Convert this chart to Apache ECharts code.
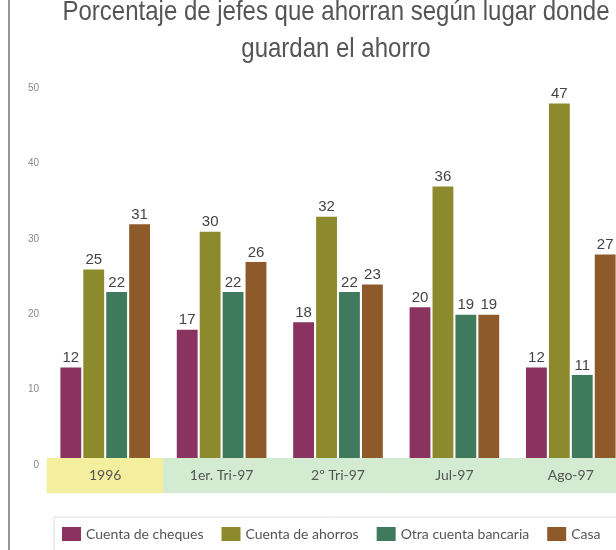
<!DOCTYPE html>
<html>
<head>
<meta charset="utf-8">
<script src="https://cdn.jsdelivr.net/npm/echarts@6/dist/echarts.min.js"></script>
<style>
  html, body { margin: 0; padding: 0; background: #fff; }
  #main { width: 616px; height: 550px; }
</style>
</head>
<body>
<div id="main"></div>
<script>
// datos
var categorias = ['1996', '1er. Tri-97', '2º Tri-97', 'Jul-97', 'Ago-97'];
var cheques = [12, 17, 18, 20, 12];
var ahorros = [25, 30, 32, 36, 47];
var otraCuenta = [22, 22, 22, 19, 11];
var casa = [31, 26, 23, 19, 27];
var nombres = ['Cuenta de cheques', 'Cuenta de ahorros', 'Otra cuenta bancaria', 'Casa'];
var titulo = ['Porcentaje de jefes que ahorran según lugar donde', 'guardan el ahorro'];
var colores = ['#8a3260', '#8c8a2c', '#3f7a5c', '#8e5a2a'];

var myChart = echarts.init(document.getElementById('main'));

var etiqueta = {
    show: true,
    position: 'top',
    distance: 2,
    color: '#444',
    fontSize: 15,
    fontFamily: 'Liberation Sans'
};

var series = [cheques, ahorros, otraCuenta, casa].map(function (d, i) {
    return {
        name: nombres[i],
        type: 'bar',
        data: d,
        barGap: '10%',
        barCategoryGap: '23%',
        itemStyle: { color: colores[i] },
        label: etiqueta
    };
});

var fuente = 'Lato, "DejaVu Sans", sans-serif';

// titulo algo condensado, como en el original
var lineaTitulo = function (txt, y) {
    return {
        type: 'text',
        x: 336,
        y: y,
        scaleX: 0.857,
        style: {
            text: txt,
            fill: '#555',
            font: '28px "Liberation Sans"',
            textAlign: 'center',
            textVerticalAlign: 'middle'
        }
    };
};

option = {
    backgroundColor: '#fff',
    animation: false,
    legend: {
        data: nombres,
        left: 62,
        top: 527,
        padding: 0,
        itemWidth: 19,
        itemHeight: 14,
        itemGap: 18,
        icon: 'rect',
        textStyle: {
            fontFamily: fuente,
            fontSize: 14,
            color: '#555'
        }
    },
    grid: {
        left: 47,
        width: 582,
        top: 81,
        bottom: 92,
        outerBoundsMode: 'none'
    },
    xAxis: {
        type: 'category',
        data: categorias,
        axisLine: { show: false },
        axisTick: { show: false },
        axisLabel: {
            interval: 0,
            margin: 0,
            formatter: function (v, idx) {
                return idx === 0 ? '{y|' + v + '}' : '{g|' + v + '}';
            },
            rich: {
                y: {
                    width: 117, height: 35, lineHeight: 35, align: 'center',
                    backgroundColor: '#f4ef9f', color: '#555',
                    fontFamily: fuente, fontSize: 14
                },
                g: {
                    width: 117, height: 35, lineHeight: 35, align: 'center',
                    backgroundColor: '#d3ebd0', color: '#555',
                    fontFamily: fuente, fontSize: 14
                }
            }
        }
    },
    yAxis: {
        type: 'value',
        min: 0,
        max: 50,
        interval: 10,
        axisLine: { show: false },
        axisTick: { show: false },
        splitLine: { show: false },
        axisLabel: {
            margin: 8,
            verticalAlign: 'top',
            padding: [2, 0, 0, 0],
            color: '#888',
            fontSize: 10,
            fontFamily: 'Liberation Sans'
        }
    },
    graphic: [
        lineaTitulo(titulo[0], 12),
        lineaTitulo(titulo[1], 49),
        {
            type: 'rect',
            shape: { x: 8, y: 0, width: 2, height: 550 },
            style: { fill: '#9c9290' }
        },
        {
            type: 'rect',
            shape: { x: 54, y: 517, width: 580, height: 50 },
            style: { fill: 'none', stroke: '#dedede', lineWidth: 1 }
        }
    ],
    series: series
};

myChart.setOption(option);
</script>
</body>
</html>
